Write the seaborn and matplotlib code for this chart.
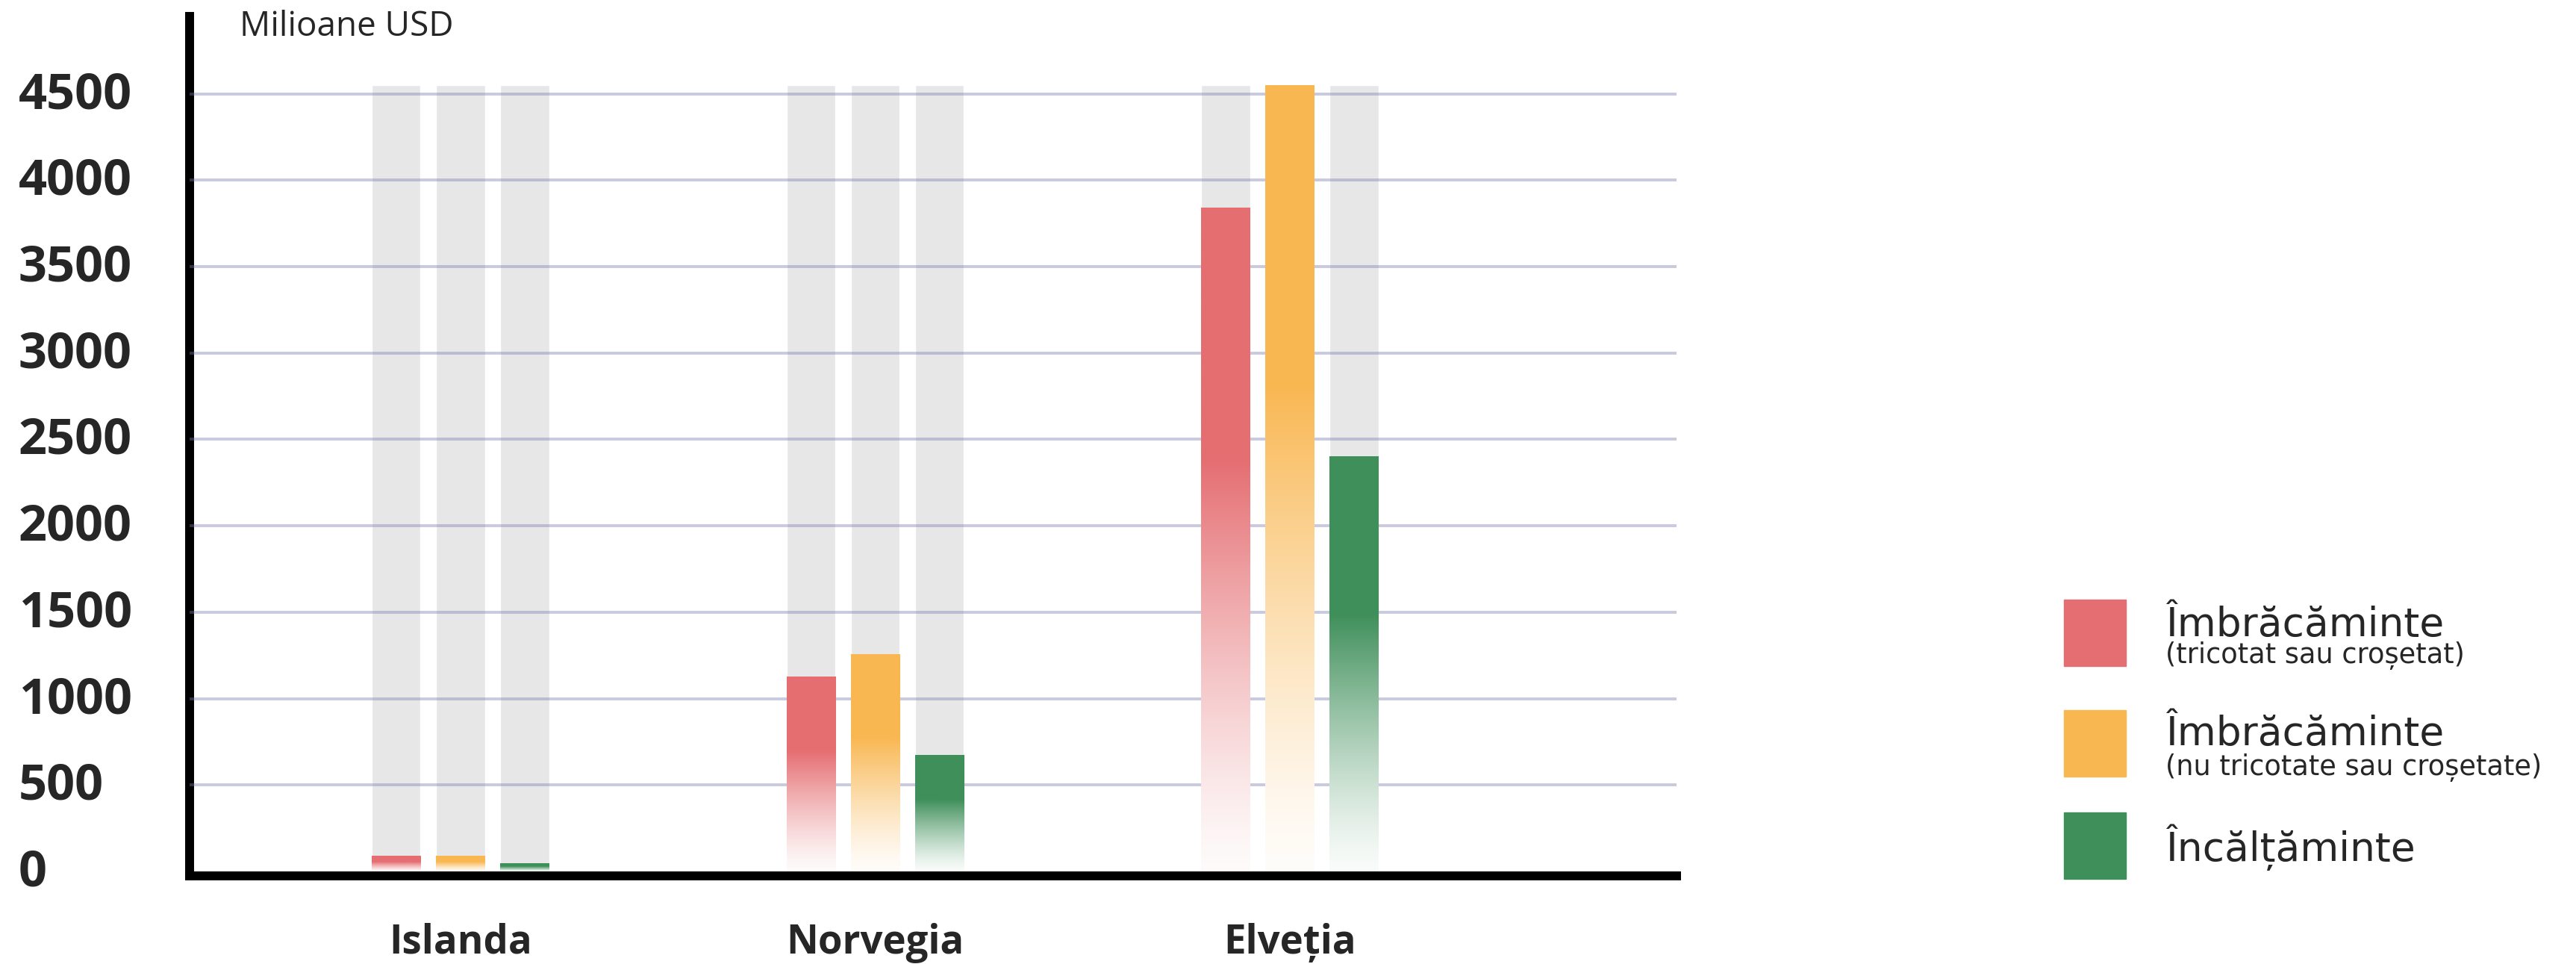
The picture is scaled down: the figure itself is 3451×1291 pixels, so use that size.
import numpy as np
import pandas as pd
import matplotlib.pyplot as plt
import seaborn as sns
from matplotlib.colors import to_rgb
from matplotlib.patches import Rectangle
from matplotlib.transforms import ScaledTranslation


# ---- data (millions USD) ---------------------------------------------------

countries = ["Islanda", "Norvegia", "Elveția"]
categories = ["tricotat", "netricotat", "incaltaminte"]
knitted = [87, 1127, 3838]        # Îmbrăcăminte (tricotat sau croșetat)
not_knitted = [87, 1255, 4550]    # Îmbrăcăminte (nu tricotate sau croșetate)
footwear = [44, 670, 2399]        # Încălțăminte
track_max = 4550                  # height of the grey background tracks
y_ticks = [0, 500, 1000, 1500, 2000, 2500, 3000, 3500, 4000, 4500]

legend_titles = ["Îmbrăcăminte", "Îmbrăcăminte", "Încălțăminte"]
legend_notes = ["(tricotat sau croșetat)", "(nu tricotate sau croșetate)", ""]

colors = ["#e56e72", "#f9b752", "#3f8f5a"]
grey = "#e7e7e7"

df = pd.DataFrame({
    "country": countries * 3,
    "category": [c for c in categories for _ in countries],
    "value": knitted + not_knitted + footwear,
})
df["track"] = track_max


# ---- figure ----------------------------------------------------------------

sns.set_style("white")
plt.rcParams["font.family"] = ["Open Sans", "DejaVu Sans"]

fig = plt.figure(figsize=(34.51, 12.91), dpi=100)
ax = fig.add_axes([0.0736, 0.0914, 0.5772, 0.8919])

# grey tracks behind each bar
sns.barplot(data=df, x="country", y="track", hue="category",
            palette=[grey] * 3, width=0.465, gap=0.24, legend=False,
            ax=ax, zorder=1, errorbar=None)

# the real values
sns.barplot(data=df, x="country", y="value", hue="category",
            palette=colors, width=0.465, gap=0.24, legend=False,
            ax=ax, zorder=3, errorbar=None)


# replace the flat fill of the coloured bars with a fade to white
def fade_bars(container, color):
    rgb = np.array(to_rgb(color))
    t = np.linspace(0, 1, 256)[:, None]
    a = np.clip(t / 0.62, 0, 1) ** 1.3
    a = 0.03 + 0.97 * a
    img = 1 - a[..., None] * (1 - rgb)
    for bar in container:
        x, w, h = bar.get_x(), bar.get_width(), bar.get_height()
        ax.imshow(img, extent=[x, x + w, 0, h], origin="lower",
                  aspect="auto", zorder=3, interpolation="bilinear")
        bar.set_visible(False)


for cont, col in zip(ax.containers[3:6], colors):
    fade_bars(cont, col)

ax.set_xlim(-0.653, 2.932)
ax.set_ylim(-26, 4950)
ax.set(xlabel="", ylabel="")

# grid + spines
ax.set_axisbelow(False)
ax.set_yticks(y_ticks)
ax.yaxis.grid(True, color="#7a7ab0", alpha=0.4, linewidth=2.8)
ax.xaxis.grid(False)
ax.yaxis.get_gridlines()[0].set_visible(False)

for side in ["top", "right"]:
    ax.spines[side].set_visible(False)
for side in ["left", "bottom"]:
    ax.spines[side].set_color("black")
    ax.spines[side].set_linewidth(8.6)
    ax.spines[side].set_capstyle("projecting")

ax.tick_params(axis="both", length=0)
ax.tick_params(axis="y", pad=165)
ax.tick_params(axis="x", pad=45)

shift = ScaledTranslation(0, 6 / 100, fig.dpi_scale_trans)
for lab in ax.get_yticklabels():
    lab.set_ha("left")
    lab.set_fontsize(48)
    lab.set_fontweight("bold")
    lab.set_transform(lab.get_transform() + shift)
for lab in ax.get_xticklabels():
    lab.set_fontsize(38)
    lab.set_fontweight("bold")

fig.text(0.0930, 0.9628, "Milioane USD", fontsize=33, va="baseline")

# ---- legend on the right ---------------------------------------------------

box_bottoms = [0.3091, 0.1944, 0.0883]
title_y = [0.3400, 0.2270, 0.1069]
note_y = [0.3122, 0.1960, 0.0]
for i in range(3):
    fig.add_artist(Rectangle((2765 / 3451, box_bottoms[i]), 83 / 3451, 89 / 1291,
                             transform=fig.transFigure, color=colors[i]))
    fig.text(0.8406, title_y[i], legend_titles[i], fontsize=38.5,
             va="baseline", family="DejaVu Sans")
    if legend_notes[i]:
        fig.text(0.8406, note_y[i], legend_notes[i], fontsize=26.5,
                 va="baseline", family="DejaVu Sans")

fig.savefig("out.png", dpi=100)
